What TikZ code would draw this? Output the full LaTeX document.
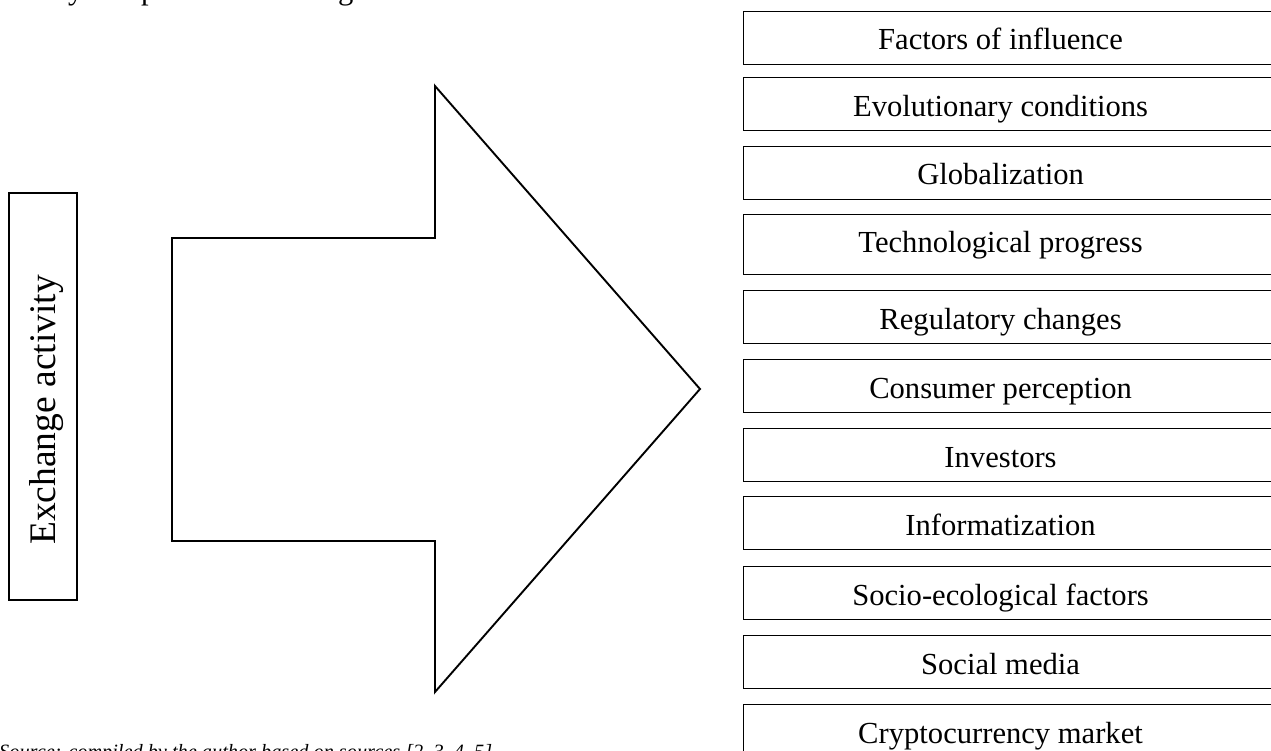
\documentclass[tikz,border=0pt]{standalone}
\usepackage{fontspec}
\setmainfont{Liberation Serif}
\newcommand\fbtext[1]{\makebox[514pt]{#1}\kern36pt\relax}
\begin{document}
\begin{tikzpicture}[x=1pt,y=-1pt,
  bodyfont/.style={font=\fontsize{30.6}{36}\selectfont},
  factorbox/.style={draw, line width=1.1pt, anchor=north west, inner sep=0pt,
    text height=38.5pt, text depth=14.5pt, bodyfont},
  tallbox/.style={factorbox, text height=37.7pt, text depth=22.3pt},
  arrowshape/.style={draw, line width=1.9pt, line join=miter},
  frag/.style={anchor=base west, inner sep=0pt, bodyfont}]
\useasboundingbox (0,0) rectangle (1271,751);
\clip (0,0) rectangle (1271,751);

% cut-off text fragments at the top edge
\node[frag] (t1) at (68,0) {y};
\node[frag] (t2) at (141,0) {p};
\node[frag] (t3) at (338,0) {g};

% Exchange activity box
\node[draw, line width=1.1pt, rotate=90, inner sep=0pt,
      text height=46pt, text depth=22pt,
      font=\fontsize{37.5}{40}\selectfont] (ex) at (43,396.5)
      {\makebox[380pt]{Exchange activity}\kern27pt\relax};

% big arrow
\draw[arrowshape] (172,238) -- (435,238) -- (435,86) -- (700,389)
   -- (435,692) -- (435,541) -- (172,541) -- cycle;

% factor boxes
\node[factorbox] (f1)  at (743,10.7)  {\fbtext{Factors of influence}};
\node[factorbox] (f2)  at (743,77)    {\fbtext{Evolutionary conditions}};
\node[factorbox] (f3)  at (743,145.7) {\fbtext{Globalization}};
\node[tallbox]   (f4)  at (743,214)   {\fbtext{Technological progress}};
\node[factorbox] (f5)  at (743,290)   {\fbtext{Regulatory changes}};
\node[factorbox] (f6)  at (743,359)   {\fbtext{Consumer perception}};
\node[factorbox] (f7)  at (743,428)   {\fbtext{Investors}};
\node[factorbox] (f8)  at (743,496)   {\fbtext{Informatization}};
\node[factorbox] (f9)  at (743,566)   {\fbtext{Socio-ecological factors}};
\node[factorbox] (f10) at (743,635)   {\fbtext{Social media}};
\node[factorbox] (f11) at (743,704)   {\fbtext{Cryptocurrency market}};

% cut-off source line at the bottom edge
\node[anchor=north west, inner sep=0pt,
      font=\fontsize{20.3}{24}\selectfont\itshape] (src) at (-1,744)
      {Source: compiled by the author based on sources [2, 3, 4, 5]};
\end{tikzpicture}
\end{document}
